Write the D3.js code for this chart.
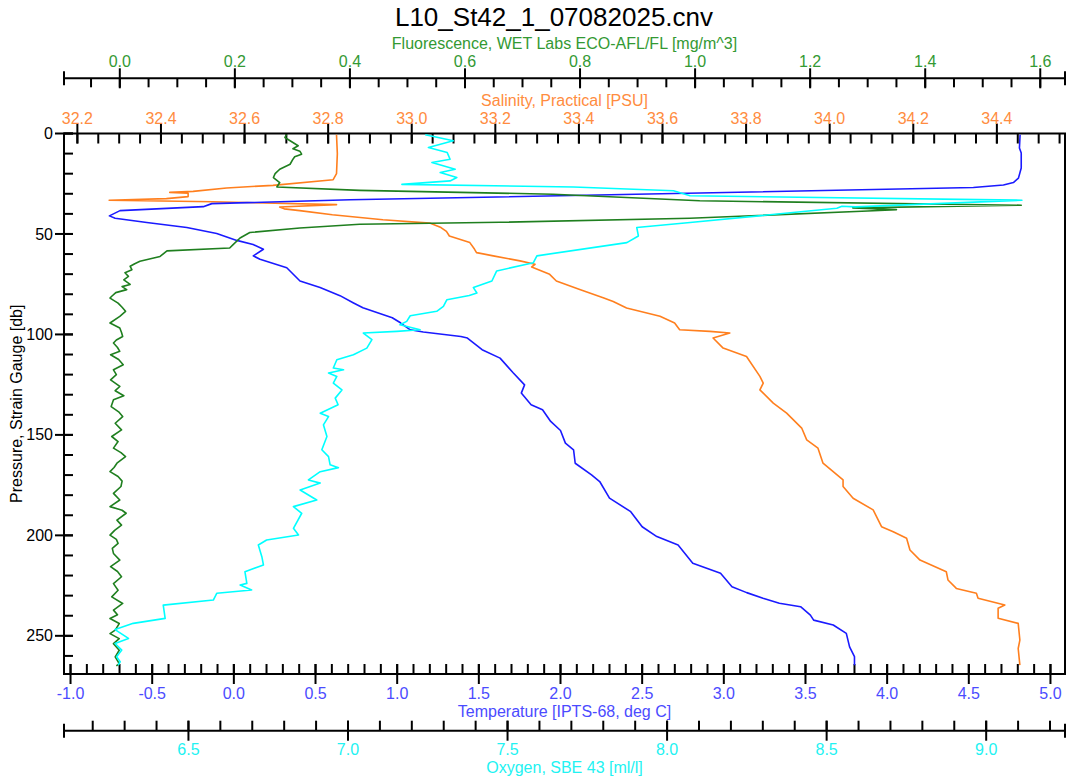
<!DOCTYPE html>
<html>
<head>
<meta charset="utf-8">
<script src="https://cdn.jsdelivr.net/npm/d3@7"></script>
<style>
  body { margin: 0; background: #fff; }
  svg { display: block; font-family: "Liberation Sans", Arial, sans-serif; }
</style>
</head>
<body>
<svg id="chart" width="1075" height="780"></svg>
<script>
const TITLE = 'L10_St42_1_07082025.cnv';

// [pressure db, value] pairs
const temperature = [
  [0.6, 4.814], [7.2, 4.810], [9.7, 4.821], [17.2, 4.821], [22.2, 4.804], [24.4, 4.773],
  [25.6, 4.712], [26.9, 4.528], [29.6, 2.855], [33.0, 0.712], [34.9, -0.135], [36.4, -0.187],
  [38.4, -0.697], [41.0, -0.762], [42.2, -0.727], [44.3, -0.533], [46.8, -0.288], [49.8, -0.105],
  [53.2, 0.018], [55.2, 0.118], [57.6, 0.181], [60.9, 0.119], [62.6, 0.160], [66.8, 0.324],
  [73.4, 0.405], [76.7, 0.528], [80.7, 0.650], [84.2, 0.73], [86.7, 0.79], [91.7, 0.97],
  [94.2, 1.02], [97.7, 1.08], [98.8, 1.16], [101.0, 1.39], [101.8, 1.43], [107.6, 1.52],
  [111.8, 1.63], [119.1, 1.71], [125.1, 1.78], [129.2, 1.76], [135.0, 1.82], [137.5, 1.89],
  [143.3, 1.94], [147.8, 2.00], [154.1, 2.03], [157.4, 2.08], [164.1, 2.09], [169.9, 2.19],
  [173.2, 2.24], [181.5, 2.30], [188.2, 2.43], [195.7, 2.50], [200.6, 2.59], [204.8, 2.72],
  [213.9, 2.81], [218.9, 2.98], [225.6, 3.05], [228.5, 3.14], [231.3, 3.24], [233.8, 3.34],
  [235.5, 3.47], [239.7, 3.53], [242.2, 3.55], [244.6, 3.67], [248.8, 3.75], [255.5, 3.77],
  [260.4, 3.80], [264.6, 3.80],
];

const salinity = [
  [0.6, 32.820], [10, 32.822], [20, 32.820], [23, 32.812], [25.8, 32.668], [27.1, 32.557],
  [28.8, 32.477], [29.3, 32.421], [29.7, 32.465], [31.4, 32.465], [32.4, 32.413], [33.2, 32.276],
  [34.0, 32.525], [35.4, 32.820], [36.6, 32.684], [37.5, 32.695], [38.4, 32.732], [40.4, 32.810],
  [42.9, 32.931], [44.6, 33.043], [46.8, 33.070], [48.7, 33.083], [51.0, 33.090], [54.3, 33.139],
  [57.5, 33.150], [59.3, 33.155], [60.9, 33.195], [63.4, 33.259], [65.1, 33.295], [66.4, 33.287],
  [70.1, 33.330], [73.4, 33.346], [77.6, 33.402], [81.7, 33.458], [83.6, 33.482], [86.8, 33.514],
  [91.0, 33.594], [94.3, 33.629], [97.7, 33.641], [98.5, 33.713], [99.3, 33.761], [101.8, 33.721],
  [106.8, 33.745], [111.0, 33.801], [120.9, 33.833], [124.2, 33.841], [127.6, 33.833], [134.2, 33.865],
  [139.2, 33.897], [146.6, 33.933], [152.5, 33.945], [156.6, 33.972], [164.1, 33.984], [172.4, 34.032],
  [175.7, 34.032], [181.5, 34.056], [187.3, 34.104], [195.7, 34.124], [198.2, 34.152], [201.4, 34.184],
  [207.3, 34.192], [212.3, 34.216], [218.1, 34.279], [222.2, 34.283], [226.4, 34.303], [228.8, 34.351],
  [231.3, 34.355], [234.7, 34.419], [236.3, 34.403], [241.3, 34.403], [243.8, 34.451], [252.1, 34.455],
  [256.3, 34.451], [264.6, 34.455],
];

const fluorescence = [
  [0.6, 0.290], [2.0, 0.287], [3.6, 0.296], [6.1, 0.310], [7.6, 0.301], [8.8, 0.313], [10.3, 0.316],
  [11.6, 0.304], [12.8, 0.301], [15.3, 0.296], [17.8, 0.278], [20.0, 0.270], [21.9, 0.267],
  [24.4, 0.278], [26.6, 0.273], [28.3, 0.417], [30.2, 0.753], [33.5, 1.008], [35.7, 1.567],
  [37.0, 1.274], [37.9, 1.350], [38.6, 1.300], [42.2, 0.991], [44.2, 0.661], [45.2, 0.417],
  [47.0, 0.313], [49.3, 0.226], [52.0, 0.209], [55.3, 0.197], [57.0, 0.191], [58.4, 0.082],
  [61.2, 0.070], [63.6, 0.035], [64.8, 0.026], [66.1, 0.018], [67.8, 0.021], [69.3, 0.009],
  [71.1, 0.015], [72.8, 0.007], [75.1, 0.018], [76.2, 0.004], [77.7, 0.012], [79.2, -0.007],
  [81.0, -0.014], [81.9, -0.017], [84.4, -0.003], [86.5, 0.004], [88.5, 0.010], [91.0, 0.000],
  [94.3, -0.017], [96.8, 0.000], [99.0, 0.003], [101.0, 0.005], [102.8, -0.006], [104.3, -0.011],
  [106.5, -0.004], [108.4, 0.000], [110.1, -0.016], [112.5, -0.002], [115.1, 0.006], [117.6, -0.011],
  [120.0, -0.006], [122.6, -0.016], [125.9, 0.000], [128.0, -0.008], [130.5, 0.007], [132.5, -0.011],
  [135.9, -0.015], [138.5, -0.002], [140.9, 0.005], [144.2, -0.008], [147.5, 0.003], [150.8, -0.014],
  [153.3, -0.003], [156.6, -0.011], [158.8, 0.002], [160.8, 0.010], [164.1, -0.005], [166.2, -0.010],
  [168.3, -0.017], [170.7, -0.003], [173.0, 0.004], [175.7, 0.002], [179.1, -0.011], [182.4, 0.000],
  [185.7, -0.017], [187.5, 0.004], [189.0, 0.011], [192.4, -0.005], [194.9, 0.003], [197.5, -0.009],
  [199.9, -0.017], [202.0, -0.006], [204.0, -0.003], [206.5, -0.013], [209.0, -0.011], [212.3, 0.000],
  [215.6, -0.016], [218.0, -0.004], [220.6, 0.003], [224.0, -0.011], [227.3, -0.003], [230.6, -0.014],
  [233.9, 0.005], [237.2, -0.011], [239.5, -0.004], [241.4, -0.017], [243.9, -0.001], [247.2, -0.008],
  [248.9, -0.017], [251.4, -0.001], [253.9, -0.011], [257.2, -0.001], [260.5, -0.008], [263.8, -0.001],
  [265.0, -0.006],
];

const oxygen = [
  [0.6, 7.242], [3.6, 7.330], [7.0, 7.252], [9.5, 7.311], [12.8, 7.320], [14.4, 7.263],
  [17.8, 7.336], [19.4, 7.289], [21.9, 7.341], [23.6, 7.320], [25.3, 7.169], [26.6, 7.707],
  [28.5, 8.020], [31.0, 8.072], [33.2, 9.112], [36.5, 8.590], [36.2, 8.548], [37.2, 8.532],
  [44.3, 8.072], [46.8, 7.905], [51.0, 7.910], [54.3, 7.874], [60.9, 7.592], [64.3, 7.581],
  [68.4, 7.466], [73.4, 7.451], [76.7, 7.393], [79.4, 7.404], [80.6, 7.380], [82.7, 7.310],
  [86.0, 7.299], [88.5, 7.278], [90.7, 7.195], [93.5, 7.184], [95.2, 7.163], [97.7, 7.226],
  [98.5, 7.153], [99.3, 7.048], [102.6, 7.075], [106.8, 7.059], [110.1, 7.017], [112.6, 6.965],
  [116.7, 6.954], [117.6, 6.986], [119.2, 6.939], [120.9, 6.965], [124.2, 6.954], [127.6, 6.981],
  [131.7, 6.960], [135.0, 6.969], [139.2, 6.913], [140.9, 6.939], [145.0, 6.923], [150.8, 6.934],
  [157.4, 6.918], [160.8, 6.939], [164.9, 6.944], [166.3, 6.970], [168.3, 6.913], [172.4, 6.876],
  [174.0, 6.913], [177.4, 6.850], [182.4, 6.902], [185.7, 6.829], [189.0, 6.855], [196.5, 6.829],
  [199.8, 6.845], [202.3, 6.745], [204.8, 6.719], [210.6, 6.730], [214.7, 6.735], [218.1, 6.677],
  [223.9, 6.683], [224.7, 6.662], [227.2, 6.698], [228.8, 6.589], [232.2, 6.578], [234.7, 6.421],
  [241.3, 6.427], [243.8, 6.327], [246.9, 6.270], [251.3, 6.312], [253.8, 6.270], [257.1, 6.291],
  [260.4, 6.275], [262.9, 6.286], [264.6, 6.280],
];

const pressureTicks = [0, 50, 100, 150, 200, 250];
const tempTicks = [-1.0, -0.5, 0.0, 0.5, 1.0, 1.5, 2.0, 2.5, 3.0, 3.5, 4.0, 4.5, 5.0];
const salTicks = [32.2, 32.4, 32.6, 32.8, 33.0, 33.2, 33.4, 33.6, 33.8, 34.0, 34.2, 34.4];
const fluorTicks = [0.0, 0.2, 0.4, 0.6, 0.8, 1.0, 1.2, 1.4, 1.6];
const oxyTicks = [6.5, 7.0, 7.5, 8.0, 8.5, 9.0];

const FL_LABEL = '#339933', FL_LINE = '#1f7f1f';
const SAL_LABEL = '#ff8c40', SAL_LINE = '#ff7f1e';
const T_LABEL = '#4b4bff', T_LINE = '#1a1aff';
const OX_LABEL = '#22f2f2', OX_LINE = '#00ffff';

const box = { left: 64, right: 1065, top: 133.5, bottom: 674 };
const midX = (box.left + box.right) / 2;

const svg = d3.select('#chart');
svg.append('rect').attr('width', 1075).attr('height', 780).attr('fill', '#fff');

const y = d3.scaleLinear().domain([0, 269]).range([box.top, box.bottom]);
const xTemp = d3.scaleLinear().domain([-1.040, 5.089]).range([box.left, box.right]);
const xSal = d3.scaleLinear().domain([32.168, 34.563]).range([box.left, box.right]);
const xFl = d3.scaleLinear().domain([-0.097, 1.643]).range([box.left, box.right]);
const xOx = d3.scaleLinear().domain([6.110, 9.247]).range([box.left, box.right]);

const fmt1 = d => d.toFixed(1);

function minorsOf(scale, step) {
  const [a, b] = scale.domain();
  return d3.range(Math.ceil(a / step - 1e-6), Math.floor(b / step + 1e-6) + 1).map(i => i * step);
}

function hAxis(o) {
  const g = svg.append('g');
  const [r0, r1] = o.scale.range();
  if (o.line) {
    g.append('line')
      .attr('x1', r0).attr('x2', r1).attr('y1', o.y).attr('y2', o.y)
      .attr('stroke', '#000').attr('stroke-width', 2);
    g.selectAll('line.cap').data([r0, r1]).join('line')
      .attr('class', 'cap')
      .attr('x1', d => d).attr('x2', d => d)
      .attr('y1', o.y - 7).attr('y2', o.y + 7)
      .attr('stroke', '#000').attr('stroke-width', 2);
  }
  g.selectAll('line.minor').data(minorsOf(o.scale, o.minorStep)).join('line')
    .attr('class', 'minor')
    .attr('x1', d => o.scale(d)).attr('x2', d => o.scale(d))
    .attr('y1', o.y).attr('y2', o.y + o.minorLen)
    .attr('stroke', '#000').attr('stroke-width', 2);
  g.selectAll('line.major').data(o.majors).join('line')
    .attr('class', 'major')
    .attr('x1', d => o.scale(d)).attr('x2', d => o.scale(d))
    .attr('y1', o.y - 10).attr('y2', o.y + 10)
    .attr('stroke', '#000').attr('stroke-width', 2);
  g.selectAll('text.tick').data(o.majors).join('text')
    .attr('class', 'tick')
    .attr('x', d => o.scale(d)).attr('y', o.labelY)
    .attr('text-anchor', 'middle')
    .attr('font-size', 16)
    .attr('fill', o.color)
    .text(fmt1);
  g.append('text')
    .attr('x', midX).attr('y', o.titleY)
    .attr('text-anchor', 'middle')
    .attr('font-size', 16)
    .attr('fill', o.color)
    .text(o.title);
}

// plot frame
svg.append('rect')
  .attr('x', box.left).attr('y', box.top)
  .attr('width', box.right - box.left).attr('height', box.bottom - box.top)
  .attr('fill', 'none').attr('stroke', '#000').attr('stroke-width', 2);

hAxis({ scale: xFl, y: 78.3, line: true, majors: fluorTicks, minorStep: 0.05, minorLen: 9,
  labelY: 66.7, color: FL_LABEL, titleY: 49.3,
  title: 'Fluorescence, WET Labs ECO-AFL/FL [mg/m^3]' });
hAxis({ scale: xSal, y: box.top, line: false, majors: salTicks, minorStep: 0.05, minorLen: 10,
  labelY: 124, color: SAL_LABEL, titleY: 106, title: 'Salinity, Practical [PSU]' });
hAxis({ scale: xTemp, y: box.bottom, line: false, majors: tempTicks, minorStep: 0.1, minorLen: -10,
  labelY: 699.3, color: T_LABEL, titleY: 716.7, title: 'Temperature [IPTS-68, deg C]' });
hAxis({ scale: xOx, y: 730.7, line: true, majors: oxyTicks, minorStep: 0.1, minorLen: -10,
  labelY: 755, color: OX_LABEL, titleY: 773.3, title: 'Oxygen, SBE 43 [ml/l]' });

// pressure axis
const gy = svg.append('g');
gy.selectAll('line.minor').data(d3.range(0, 270, 10)).join('line')
  .attr('x1', box.left).attr('x2', box.left + 9)
  .attr('y1', d => y(d)).attr('y2', d => y(d))
  .attr('stroke', '#000').attr('stroke-width', 2);
gy.selectAll('line.major').data(pressureTicks).join('line')
  .attr('x1', box.left - 9).attr('x2', box.left + 9)
  .attr('y1', d => y(d)).attr('y2', d => y(d))
  .attr('stroke', '#000').attr('stroke-width', 2);
gy.selectAll('text').data(pressureTicks).join('text')
  .attr('x', 53).attr('y', d => y(d)).attr('dy', '0.35em')
  .attr('text-anchor', 'end').attr('font-size', 16).attr('fill', '#000')
  .text(d => d);
svg.append('text')
  .attr('transform', `translate(21.5,${(box.top + box.bottom) / 2}) rotate(-90)`)
  .attr('text-anchor', 'middle').attr('font-size', 16).attr('fill', '#000')
  .text('Pressure, Strain Gauge [db]');

svg.append('text')
  .attr('x', 554).attr('y', 26)
  .attr('text-anchor', 'middle').attr('font-size', 26).attr('fill', '#000')
  .text(TITLE);

// profiles
const series = [
  { data: salinity, x: xSal, color: SAL_LINE },
  { data: temperature, x: xTemp, color: T_LINE },
  { data: fluorescence, x: xFl, color: FL_LINE },
  { data: oxygen, x: xOx, color: OX_LINE },
];
const plot = svg.append('g');
series.forEach(s => {
  plot.append('path')
    .datum(s.data)
    .attr('fill', 'none')
    .attr('stroke', s.color)
    .attr('stroke-width', 1.6)
    .attr('stroke-linejoin', 'round')
    .attr('d', d3.line().x(d => s.x(d[1])).y(d => y(d[0])));
});
</script>
</body>
</html>
